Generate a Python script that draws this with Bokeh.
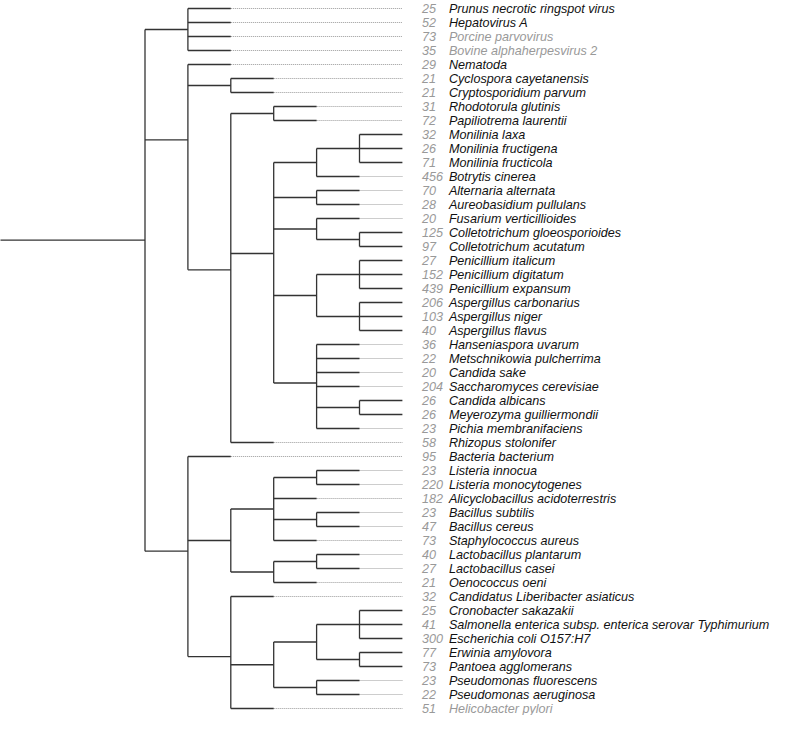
from bokeh.plotting import figure
from bokeh.models import Range1d, ColumnDataSource
from bokeh.core.properties import value
from bokeh.embed import file_html
from bokeh.resources import INLINE

names = [
    "Prunus necrotic ringspot virus", "Hepatovirus A", "Porcine parvovirus",
    "Bovine alphaherpesvirus 2", "Nematoda", "Cyclospora cayetanensis",
    "Cryptosporidium parvum", "Rhodotorula glutinis", "Papiliotrema laurentii",
    "Monilinia laxa", "Monilinia fructigena", "Monilinia fructicola",
    "Botrytis cinerea", "Alternaria alternata", "Aureobasidium pullulans",
    "Fusarium verticillioides", "Colletotrichum gloeosporioides",
    "Colletotrichum acutatum", "Penicillium italicum", "Penicillium digitatum",
    "Penicillium expansum", "Aspergillus carbonarius", "Aspergillus niger",
    "Aspergillus flavus", "Hanseniaspora uvarum", "Metschnikowia pulcherrima",
    "Candida sake", "Saccharomyces cerevisiae", "Candida albicans",
    "Meyerozyma guilliermondii", "Pichia membranifaciens", "Rhizopus stolonifer",
    "Bacteria bacterium", "Listeria innocua", "Listeria monocytogenes",
    "Alicyclobacillus acidoterrestris", "Bacillus subtilis", "Bacillus cereus",
    "Staphylococcus aureus", "Lactobacillus plantarum", "Lactobacillus casei",
    "Oenococcus oeni", "Candidatus Liberibacter asiaticus", "Cronobacter sakazakii",
    "Salmonella enterica subsp. enterica serovar Typhimurium",
    "Escherichia coli O157:H7", "Erwinia amylovora", "Pantoea agglomerans",
    "Pseudomonas fluorescens", "Pseudomonas aeruginosa", "Helicobacter pylori",
]
counts = [25, 52, 73, 35, 29, 21, 21, 31, 72, 32, 26, 71, 456, 70, 28, 20, 125, 97,
          27, 152, 439, 206, 103, 40, 36, 22, 20, 204, 26, 26, 23, 58, 95, 23, 220,
          182, 23, 47, 73, 40, 27, 21, 32, 25, 41, 300, 77, 73, 23, 22, 51]
muted = ["Porcine parvovirus", "Bovine alphaherpesvirus 2", "Helicobacter pylori"]

# tree as nested lists of leaf indices
tree = [
    [0, 1, 2, 3],
    [4, [5, 6],
     [[7, 8],
      [[[9, 10, 11], 12], [13, 14], [15, [16, 17]],
       [[18, 19, 20], [21, 22, 23]], [24, 25, 26, 27, [28, 29], 30]],
      31]],
    [32,
     [[[33, 34], 35, [36, 37], 38], [[39, 40], 41]],
     [42, [[[43, 44, 45], [46, 47]], [48, 49]], 50]],
]
MAXD = 6

sx, sy, ex, ey = [], [], [], []
dx0, dy0, dx1, dy1 = [], [], [], []


def walk(node, d):
    if isinstance(node, int):
        return float(node)
    ys = [walk(c, d + 1) for c in node]
    sx.append(d); sy.append(min(ys)); ex.append(d); ey.append(max(ys))
    for c, y in zip(node, ys):
        sx.append(d); sy.append(y); ex.append(d + 1); ey.append(y)
        if isinstance(c, int) and d + 1 < MAXD:
            dx0.append(d + 1); dy0.append(y); dx1.append(MAXD); dy1.append(y)
    return sum(ys) / len(ys)


W, H = 773, 715
PX_X = 42.9
PX_Y = 14.0
x0 = -144.5 / PX_X
y_top = -8.0 / PX_Y

root_y = walk(tree, 0)
sx.append(x0 - 1); sy.append(root_y); ex.append(0); ey.append(root_y)

p = figure(width=W, height=H, output_backend="svg", toolbar_location=None,
           x_range=Range1d(x0, x0 + W / PX_X),
           y_range=Range1d(y_top + H / PX_Y, y_top),
           min_border=0, outline_line_color=None)
p.axis.visible = False
p.grid.visible = False

p.segment(x0=dx0, y0=dy0, x1=dx1, y1=dy1, line_color="#9a9a9a", line_width=1,
          line_dash="1 1")
p.segment(x0=sx, y0=sy, x1=ex, y1=ey, line_color="#333333", line_width=1.3)

src = ColumnDataSource(dict(
    x=[MAXD] * len(names), y=list(range(len(names))),
    num=[str(c) for c in counts], name=names,
    col=["#999999" if n in muted else "#111111" for n in names],
))
p.text(x="x", y="y", text="num", source=src, x_offset=19.5,
       text_font=value("Liberation Sans"), text_font_style="italic",
       text_font_size="12.6px", text_color="#999999", text_baseline="middle",
       text_align="left")
p.text(x="x", y="y", text="name", source=src, x_offset=46.5,
       text_font=value("Liberation Sans"), text_font_style="italic",
       text_font_size="12.6px", text_color="col", text_baseline="middle",
       text_align="left")

open("out.html", "w").write(file_html(p, INLINE))
